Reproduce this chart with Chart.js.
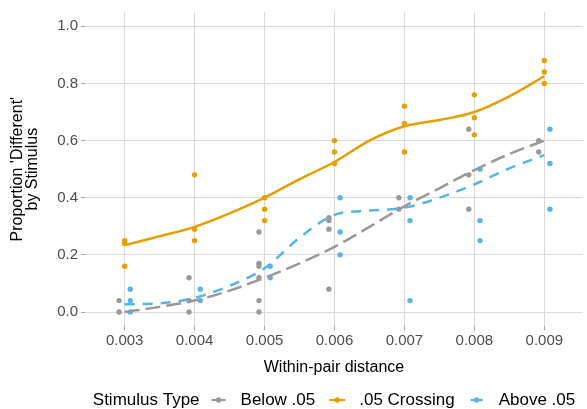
<!DOCTYPE html>
<html>
<head>
<meta charset="utf-8">
<script src="https://cdn.jsdelivr.net/npm/chart.js@4.4.1/dist/chart.umd.min.js"></script>
<style>
  body { margin: 0; background: #fff; }
  canvas { display: block; }
</style>
</head>
<body>
<canvas id="chart" width="587" height="409"></canvas>
<script>
// categories (within-pair distance)
const distances = [0.003, 0.004, 0.005, 0.006, 0.007, 0.008, 0.009];
const xTickLabels = ['0.003', '0.004', '0.005', '0.006', '0.007', '0.008', '0.009'];
const yTicks = [0, 0.2, 0.4, 0.6, 0.8, 1.0];
const yTickLabels = ['0.0', '0.2', '0.4', '0.6', '0.8', '1.0'];

const legendTitle = 'Stimulus Type';
const seriesNames = ['Below .05', '.05 Crossing', 'Above .05'];

// per-stimulus proportions, one list per distance
const belowPoints = [
  [0.04, 0.0],
  [0.12, 0.04, 0.0],
  [0.28, 0.17, 0.16, 0.12, 0.04, 0.0],
  [0.33, 0.32, 0.29, 0.08],
  [0.40, 0.36],
  [0.64, 0.48, 0.36],
  [0.60, 0.56]
];
const crossingPoints = [
  [0.25, 0.24, 0.16],
  [0.48, 0.29, 0.25],
  [0.40, 0.36, 0.32],
  [0.60, 0.56, 0.52],
  [0.72, 0.66, 0.56],
  [0.76, 0.68, 0.62],
  [0.88, 0.84, 0.80]
];
const abovePoints = [
  [0.08, 0.04, 0.0],
  [0.08, 0.04],
  [0.16, 0.12],
  [0.40, 0.28, 0.20],
  [0.40, 0.32, 0.04],
  [0.50, 0.32, 0.25],
  [0.64, 0.52, 0.36]
];

// smoothed trend at half steps
const fitDistances = [0.003, 0.0035, 0.004, 0.0045, 0.005, 0.0055, 0.006, 0.0065, 0.007, 0.0075, 0.008, 0.0085, 0.009];
const belowFit    = [0.0, 0.018, 0.04, 0.075, 0.12, 0.17, 0.228, 0.298, 0.37, 0.433, 0.497, 0.553, 0.60];
const crossingFit = [0.234, 0.265, 0.298, 0.345, 0.40, 0.465, 0.525, 0.60, 0.65, 0.672, 0.70, 0.755, 0.825];
const aboveFit    = [0.027, 0.03, 0.05, 0.092, 0.153, 0.26, 0.34, 0.355, 0.365, 0.40, 0.447, 0.503, 0.549];

const colors = ['#999999', '#E69F00', '#56B4E9'];
const dashes = [[15, 6], [], [10, 8]];
const dodge = [-0.00008, 0, 0.00008];
const FONT = '"Liberation Sans", Arial, sans-serif';

function pointData(groups, shift) {
  const out = [];
  groups.forEach((vals, i) => vals.forEach(v => out.push({x: distances[i] + shift, y: v})));
  return out;
}
function lineData(vals) {
  return vals.map((v, i) => ({x: fitDistances[i], y: v}));
}

const fits = [belowFit, crossingFit, aboveFit];
const pts = [belowPoints, crossingPoints, abovePoints];

const datasets = [];
fits.forEach((f, i) => datasets.push({
  label: seriesNames[i] + ' fit',
  data: lineData(f),
  showLine: true,
  borderColor: colors[i],
  borderWidth: 2.5,
  borderDash: dashes[i],
  pointRadius: 0,
  cubicInterpolationMode: 'monotone',
  fill: false
}));
pts.forEach((p, i) => datasets.push({
  label: seriesNames[i],
  data: pointData(p, dodge[i]),
  backgroundColor: colors[i],
  borderWidth: 0,
  pointRadius: 2.7
}));

const keyLen = [14, 16, 12];
const inlineLegend = {
  id: 'inlineLegend',
  afterDraw(chart) {
    const ctx = chart.ctx;
    const area = chart.chartArea;
    const y = 400;
    const keyW = 16, gapTitle = 11, gapKey = 14, gapItem = 14;
    ctx.save();
    ctx.font = '17px ' + FONT;
    ctx.textBaseline = 'middle';
    let total = ctx.measureText(legendTitle).width + gapTitle;
    seriesNames.forEach((n, i) => {
      total += keyW + gapKey + ctx.measureText(n).width + (i < seriesNames.length - 1 ? gapItem : 0);
    });
    let x = (area.left + area.right) / 2 - total / 2;
    ctx.fillStyle = '#000';
    ctx.fillText(legendTitle, x, y);
    x += ctx.measureText(legendTitle).width + gapTitle;
    seriesNames.forEach((n, i) => {
      const c = x + keyW / 2;
      ctx.strokeStyle = colors[i];
      ctx.lineWidth = 2.2;
      ctx.beginPath();
      ctx.moveTo(c - keyLen[i] / 2, y);
      ctx.lineTo(c + keyLen[i] / 2, y);
      ctx.stroke();
      ctx.fillStyle = colors[i];
      ctx.beginPath();
      ctx.arc(c, y, 2.7, 0, Math.PI * 2);
      ctx.fill();
      x += keyW + gapKey;
      ctx.fillStyle = '#000';
      ctx.fillText(n, x, y);
      x += ctx.measureText(n).width + gapItem;
    });
    ctx.restore();
  }
};

new Chart(document.getElementById('chart'), {
  type: 'scatter',
  data: {datasets: datasets},
  plugins: [inlineLegend],
  options: {
    responsive: false,
    animation: false,
    layout: {padding: {top: 11.7, left: 0, right: 0, bottom: 0}},
    plugins: {
      legend: {display: false},
      tooltip: {enabled: false}
    },
    scales: {
      x: {
        type: 'linear',
        min: 0.0024326,
        max: 0.0095532,
        afterBuildTicks: s => { s.ticks = distances.map(v => ({value: v})); },
        afterFit: s => { s.height = 409 - 326.3; },
        border: {display: false},
        grid: {color: '#dadada', lineWidth: 1, tickLength: 4, tickColor: '#a6a6a6'},
        ticks: {
          callback: (v, i) => xTickLabels[i],
          font: {family: FONT, size: 15},
          color: '#4d4d4d',
          padding: 2,
          maxRotation: 0,
          autoSkip: false
        },
        title: {
          display: true,
          text: 'Within-pair distance',
          color: '#000',
          font: {family: FONT, size: 16, lineHeight: 1.2},
          padding: {top: 0, bottom: 31.4}
        }
      },
      y: {
        min: -0.05,
        max: 1.05,
        afterBuildTicks: s => { s.ticks = yTicks.map(v => ({value: v})); },
        afterFit: s => { s.width = 85; },
        border: {display: false},
        grid: {color: '#dadada', lineWidth: 1, tickLength: 4, tickColor: '#a6a6a6'},
        ticks: {
          callback: (v, i) => yTickLabels[i],
          font: {family: FONT, size: 15},
          color: '#4d4d4d',
          padding: 3
        },
        title: {
          display: true,
          text: ["Proportion 'Different'", 'by Stimulus'],
          color: '#000',
          font: {family: FONT, size: 16, lineHeight: 0.94},
          padding: {top: 10, bottom: 0}
        }
      }
    }
  }
});
</script>
</body>
</html>
